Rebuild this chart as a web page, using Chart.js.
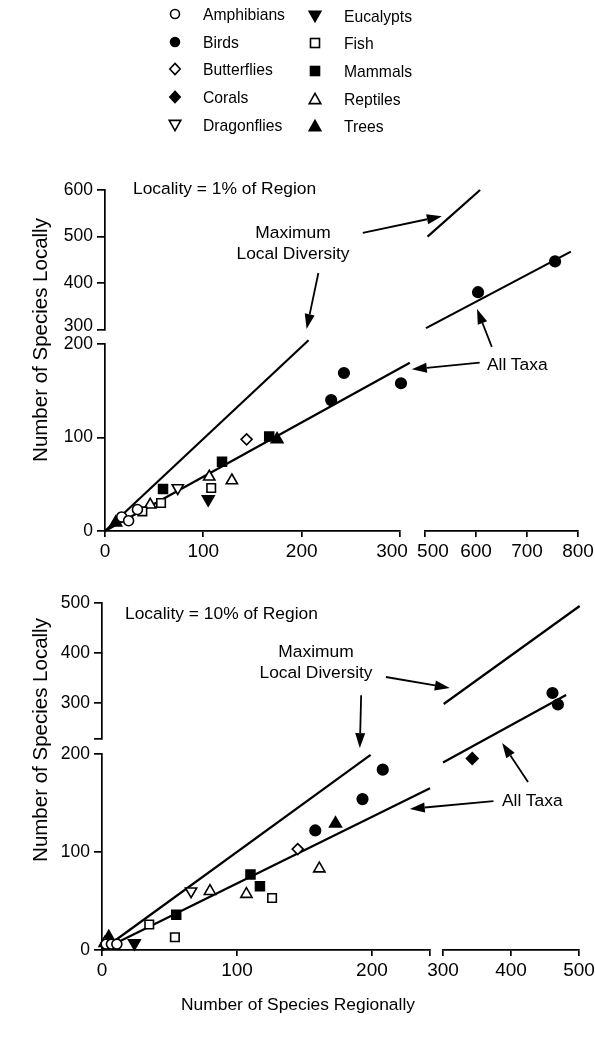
<!DOCTYPE html>
<html>
<head>
<meta charset="utf-8">
<script src="https://cdn.jsdelivr.net/npm/chart.js@4/dist/chart.umd.min.js"></script>
<style>
  html, body { margin: 0; padding: 0; background: #fff; }
  #page { position: relative; width: 595px; height: 1038px; overflow: hidden;
          font-family: "Liberation Sans", Arial, Helvetica, sans-serif; color: #000; }
  #page canvas { position: absolute; left: 0; top: 0; }
  .txt { position: absolute; white-space: nowrap; font-size: 17.4px; line-height: 21px; }
  .ctr { transform: translateX(-50%); text-align: center; }
  .ytitle { position: absolute; white-space: nowrap; font-size: 20.5px;
            transform: translate(-50%, -50%) rotate(-90deg); }
  .leg { position: absolute; white-space: nowrap; font-size: 15.7px; line-height: 18px; }
  .leg svg { position: absolute; }
</style>
</head>
<body>
<div id="page"></div>
<script>
/* Species richness: local vs regional, two locality sizes (broken axes) */

const TAXA = ['Amphibians', 'Birds', 'Butterflies', 'Corals', 'Dragonflies',
              'Eucalypts', 'Fish', 'Mammals', 'Reptiles', 'Trees'];

// Locality = 1% of Region   [regional, local]
const P1_AMPHIBIANS  = [[17, 15], [24, 11], [33, 23]];
const P1_BIRDS       = [[230, 140], [243, 169], [301, 158], [604, 381], [755, 447]];
const P1_BUTTERFLIES = [[144, 98]];
const P1_CORALS      = [];
const P1_DRAGONFLIES = [[74, 46]];
const P1_EUCALYPTS   = [[105, 34]];
const P1_FISH        = [[38, 21], [57, 30], [108, 46]];
const P1_MAMMALS     = [[59, 45], [119, 74], [167, 101]];
const P1_REPTILES    = [[46, 28], [106, 58], [129, 54]];
const P1_TREES       = [[11, 9], [175, 98]];
const P1_MAXDIV_LO   = [[0, 0], [207, 204]];
const P1_MAXDIV_HI   = [[505, 500], [608, 600]];
const P1_ALLTAXA_LO  = [[0, 0], [310, 180]];
const P1_ALLTAXA_HI  = [[502, 304], [786, 468]];

// Locality = 10% of Region
const P2_AMPHIBIANS  = [[3, 6], [7, 6], [11, 6]];
const P2_BIRDS       = [[158, 122], [193, 154], [208, 184], [461, 320], [469, 297]];
const P2_BUTTERFLIES = [[145, 103]];
const P2_CORALS      = [[343, 189]];
const P2_DRAGONFLIES = [[66, 60]];
const P2_EUCALYPTS   = [[24, 7]];
const P2_FISH        = [[35, 26], [54, 13], [126, 53]];
const P2_MAMMALS     = [[55, 36], [110, 77], [117, 65]];
const P2_REPTILES    = [[2, 7], [80, 60], [107, 57], [161, 83]];
const P2_TREES       = [[5, 13], [173, 129]];
const P2_MAXDIV_LO   = [[0, 0], [199, 199]];
const P2_MAXDIV_HI   = [[301, 298], [501, 494]];
const P2_ALLTAXA_LO  = [[0, 0], [243, 165]];
const P2_ALLTAXA_HI  = [[300, 181], [481, 316]];

// tick values / labels for each axis segment
const P1_XTICKS_LO = [0, 100, 200, 300];
const P1_XLABELS_LO = ['0', '100', '200', '300\u00a0\u00a0\u00a0'];
const P1_XTICKS_HI = [500, 600, 700, 800];
const P1_XLABELS_HI = ['\u00a0\u00a0\u00a0500', '600', '700', '800'];
const P1_YTICKS_LO = [0, 100, 200];
const P1_YTICKS_HI = [300, 400, 500, 600];
const P1_YLABELS_HI = [['300', ''], '400', '500', '600'];   // 300 nudged up off the 200
const P2_XTICKS_LO = [0, 100, 200, 243];
const P2_XLABELS_LO = ['0', '100', '200', ''];
const P2_XTICKS_HI = [300, 400, 500];
const P2_YTICKS_LO = [0, 100, 200];
const P2_YTICKS_HI = [228, 300, 400, 500];
const P2_YLABELS_HI = ['', '300', '400', '500'];

// annotation arrows [x1, y1, x2, y2] in the data units of the segment they sit on
const P1_ARROWS_LO = [[217, 276, 205, 216], [381, 180, 312, 173]];
const P1_ARROWS_HI = [[378, 508, 533, 544], [631, 264, 602, 345]];
const P2_ARROWS_LO = [[192, 260, 191, 206], [290, 152, 228, 144]];
const P2_ARROWS_HI = [[216, 352, 310, 330], [425, 142, 387, 220]];

/* ── layout (pixel frame of each axis segment) ───────────────────── */
const FONT = '"Liberation Sans", Arial, Helvetica, sans-serif';
const CW = 640, CH = 1038, YW = 60, XH = 34;
const P1 = { xLo: [0, 300], xLoPx: [105, 400], xHi: [500, 800], xHiPx: [425, 578],
             yLo: [0, 200], yLoPx: [531, 344], yHi: [300, 600], yHiPx: [330, 190], split: 400 };
const P2 = { xLo: [0, 243], xLoPx: [102, 430], xHi: [300, 500], xHiPx: [443, 579],
             yLo: [0, 200], yLoPx: [950, 754], yHi: [228, 500], yHiPx: [739, 603], split: 271 };

const STYLE = {
  Amphibians:  { shape: 'circle',  filled: false },
  Birds:       { shape: 'circle',  filled: true },
  Butterflies: { shape: 'diamond', filled: false },
  Corals:      { shape: 'diamond', filled: true },
  Dragonflies: { shape: 'down',    filled: false },
  Eucalypts:   { shape: 'down',    filled: true },
  Fish:        { shape: 'square',  filled: false },
  Mammals:     { shape: 'square',  filled: true },
  Reptiles:    { shape: 'up',      filled: false },
  Trees:       { shape: 'up',      filled: true }
};
const PT = {
  circle:  { pointStyle: 'circle',   rotation: 0,   r: 5 },
  diamond: { pointStyle: 'rectRot',  rotation: 0,   r: 5.5 },
  square:  { pointStyle: 'rect',     rotation: 0,   r: 6 },
  up:      { pointStyle: 'triangle', rotation: 0,   r: 6.5 },
  down:    { pointStyle: 'triangle', rotation: 180, r: 6.5 }
};

const page = document.getElementById('page');

function arrowPlugin(items) {
  return {
    id: 'arrows',
    afterDatasetsDraw(chart) {
      const { ctx, scales: { x, y } } = chart;
      ctx.save();
      ctx.strokeStyle = ctx.fillStyle = '#000';
      ctx.lineWidth = 1.8;
      items.forEach(a => {
        const x1 = x.getPixelForValue(a[0]), y1 = y.getPixelForValue(a[1]);
        const x2 = x.getPixelForValue(a[2]), y2 = y.getPixelForValue(a[3]);
        const ang = Math.atan2(y2 - y1, x2 - x1), L = 15, W = 5;
        const bx = x2 - L * Math.cos(ang), by = y2 - L * Math.sin(ang);
        ctx.beginPath(); ctx.moveTo(x1, y1); ctx.lineTo(bx, by); ctx.stroke();
        ctx.beginPath(); ctx.moveTo(x2, y2);
        ctx.lineTo(bx + W * Math.sin(ang), by - W * Math.cos(ang));
        ctx.lineTo(bx - W * Math.sin(ang), by + W * Math.cos(ang));
        ctx.closePath(); ctx.fill();
      });
      ctx.restore();
    }
  };
}

function axis(range, ticks, labels, isY, tickLen) {
  return {
    type: 'linear', min: range[0], max: range[1],
    border: { display: true, color: '#000', width: 1.7 },
    grid: { display: true, drawOnChartArea: false, drawTicks: true, tickLength: tickLen,
            color: '#000', lineWidth: 1.7 },
    afterBuildTicks: s => { s.ticks = ticks.map(v => ({ value: v })); },
    afterFit: s => { if (isY) s.width = YW; else s.height = XH; },
    ticks: { autoSkip: false, maxRotation: 0, color: '#000', padding: isY ? 4 : 3,
             font: { family: FONT, size: isY ? 17.5 : 19, lineHeight: isY ? '8px' : 1.2 },
             callback: (v, i) => (labels ? labels[i] : String(v)) }
  };
}
function hidden(range) {
  return { type: 'linear', display: false, min: range[0], max: range[1] };
}

function makeChart(area, xs, ys, datasets, arrows) {
  const cv = document.createElement('canvas');
  cv.width = CW; cv.height = CH;
  page.appendChild(cv);
  const xVis = xs.display !== false, yVis = ys.display !== false;
  return new Chart(cv.getContext('2d'), {
    type: 'scatter',
    data: { datasets },
    options: {
      responsive: false, animation: false, events: [],
      layout: { padding: { left: area.left - (yVis ? YW : 0), right: CW - area.right,
                           top: area.top, bottom: CH - area.bottom - (xVis ? XH : 0) } },
      plugins: { legend: { display: false }, tooltip: { enabled: false } },
      scales: { x: xs, y: ys }
    },
    plugins: [arrowPlugin(arrows || [])]
  });
}

function markerSets(series, keep) {
  return TAXA.map((t, i) => {
    const st = STYLE[t], p = PT[st.shape];
    return {
      label: t,
      data: series[i].filter(keep).map(d => ({ x: d[0], y: d[1] })),
      pointStyle: p.pointStyle, rotation: p.rotation,
      pointRadius: st.filled ? p.r + 0.3 : p.r,
      backgroundColor: st.filled ? '#000' : '#fff',
      borderColor: '#000', borderWidth: 1.6,
      clip: false, order: 1
    };
  });
}
function lineSet(pts) {
  return { data: pts.map(d => ({ x: d[0], y: d[1] })), showLine: true, pointRadius: 0,
           borderColor: '#000', borderWidth: 2.2, clip: false, order: 5 };
}

function drawPanel(P, series, maxLo, maxHi, allLo, allHi, ax, arrLo, arrHi) {
  // lower-left segment: data + both axes
  makeChart({ left: P.xLoPx[0], right: P.xLoPx[1], top: P.yLoPx[1], bottom: P.yLoPx[0] },
    axis(P.xLo, ax.xtLo, ax.xlLo, false, 6),
    axis(P.yLo, ax.ytLo, null, true, 8),
    [...markerSets(series, d => d[0] < P.split), lineSet(maxLo), lineSet(allLo)], arrLo);
  // upper-left segment: y axis only
  makeChart({ left: P.xLoPx[0], right: P.xLoPx[1], top: P.yHiPx[1], bottom: P.yHiPx[0] },
    hidden(P.xLo),
    axis(P.yHi, ax.ytHi, ax.ylHi, true, 8), []);
  // right column: upper y scale carried down to the x axis
  const upp = (P.yHi[1] - P.yHi[0]) / (P.yHiPx[0] - P.yHiPx[1]);
  const yMin = P.yHi[1] - (P.yLoPx[0] - P.yHiPx[1]) * upp;
  makeChart({ left: P.xHiPx[0], right: P.xHiPx[1], top: P.yHiPx[1], bottom: P.yLoPx[0] },
    axis(P.xHi, ax.xtHi, ax.xlHi, false, 6),
    hidden([yMin, P.yHi[1]]),
    [...markerSets(series, d => d[0] >= P.split), lineSet(maxHi), lineSet(allHi)], arrHi);
}

drawPanel(P1,
  [P1_AMPHIBIANS, P1_BIRDS, P1_BUTTERFLIES, P1_CORALS, P1_DRAGONFLIES,
   P1_EUCALYPTS, P1_FISH, P1_MAMMALS, P1_REPTILES, P1_TREES],
  P1_MAXDIV_LO, P1_MAXDIV_HI, P1_ALLTAXA_LO, P1_ALLTAXA_HI,
  { xtLo: P1_XTICKS_LO, xlLo: P1_XLABELS_LO, xtHi: P1_XTICKS_HI, xlHi: P1_XLABELS_HI,
    ytLo: P1_YTICKS_LO, ytHi: P1_YTICKS_HI, ylHi: P1_YLABELS_HI },
  P1_ARROWS_LO, P1_ARROWS_HI);

drawPanel(P2,
  [P2_AMPHIBIANS, P2_BIRDS, P2_BUTTERFLIES, P2_CORALS, P2_DRAGONFLIES,
   P2_EUCALYPTS, P2_FISH, P2_MAMMALS, P2_REPTILES, P2_TREES],
  P2_MAXDIV_LO, P2_MAXDIV_HI, P2_ALLTAXA_LO, P2_ALLTAXA_HI,
  { xtLo: P2_XTICKS_LO, xlLo: P2_XLABELS_LO, xtHi: P2_XTICKS_HI, xlHi: null,
    ytLo: P2_YTICKS_LO, ytHi: P2_YTICKS_HI, ylHi: P2_YLABELS_HI },
  P2_ARROWS_LO, P2_ARROWS_HI);

/* ── text: labels, titles, legend ────────────────────────────────── */
function addText(cls, html, left, top) {
  const d = document.createElement('div');
  d.className = cls; d.innerHTML = html;
  d.style.left = left + 'px'; d.style.top = top + 'px';
  page.appendChild(d);
}
addText('txt', 'Locality = 1% of Region', 133, 178);
addText('txt ctr', 'Maximum<br>Local Diversity', 293, 222);
addText('txt', 'All Taxa', 487, 354);
addText('txt', 'Locality = 10% of Region', 125, 603);
addText('txt ctr', 'Maximum<br>Local Diversity', 316, 641);
addText('txt', 'All Taxa', 502, 790);
addText('ytitle', 'Number of Species Locally', 40, 340);
addText('ytitle', 'Number of Species Locally', 40, 740);
addText('txt ctr', 'Number of Species Regionally', 298, 994);

const MARK_SVG = {
  circle:  '<circle cx="8" cy="8" r="4.5"/>',
  square:  '<rect x="3.5" y="3.5" width="9" height="9"/>',
  diamond: '<polygon points="8,2.4 13.2,8 8,13.6 2.8,8"/>',
  up:      '<polygon points="8,2.3 13.8,12.6 2.2,12.6"/>',
  down:    '<polygon points="2.2,3.4 13.8,3.4 8,13.7"/>'
};
TAXA.forEach((t, i) => {
  const col = i < 5 ? 0 : 1, row = i % 5, st = STYLE[t];
  const cy = 15 + row * 27.7 + col * 1.5;
  const mx = col ? 315 : 175, tx = col ? 344 : 203;
  const fill = st.filled ? '#000' : '#fff';
  addText('leg', `<svg width="16" height="16" style="left:${mx - tx - 8}px;top:0px">` +
    `<g fill="${fill}" stroke="#000" stroke-width="1.6">${MARK_SVG[st.shape]}</g></svg>${t}`,
    tx, cy - 9);
});
</script>
</body>
</html>
